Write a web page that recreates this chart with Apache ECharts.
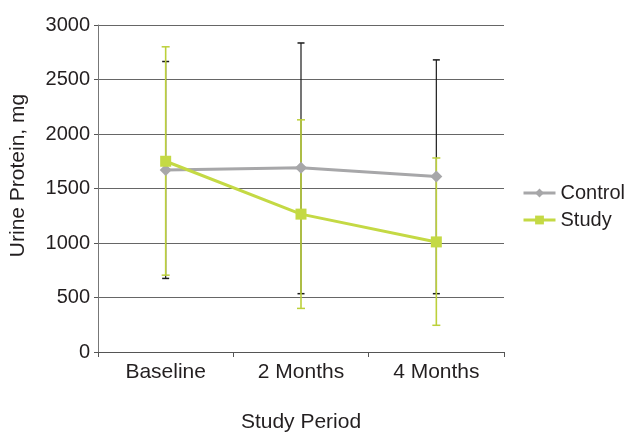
<!DOCTYPE html>
<html><head><meta charset="utf-8">
<script src="https://cdn.jsdelivr.net/npm/echarts@6/dist/echarts.min.js"></script>
<style>html,body{margin:0;padding:0;background:#fff}#c{width:625px;height:432px}</style>
</head><body><div id="c"></div>
<script>
var categories = ['Baseline', '2 Months', '4 Months'];
var controlValues = [1670, 1690, 1610];
var controlHigh = [2665, 2835, 2680];
var controlLow = [675, 535, 535];
var studyValues = [1750, 1265, 1010];
var studyHigh = [2800, 2130, 1780];
var studyLow = [705, 400, 245];

var controlColor = '#A7A7A9';
var studyColor = '#C4D944';
var studyErrColor = '#BCD03A';
var textColor = '#231F20';

function errData(low, high) {
  return categories.map(function (c, i) { return [i, low[i], high[i]]; });
}
function errRender(color, w, lw) {
  return function (params, api) {
    var x = api.value(0);
    var lo = api.coord([x, api.value(1)]);
    var hi = api.coord([x, api.value(2)]);
    return {
      type: 'group',
      children: [
        {type: 'line', shape: {x1: lo[0], y1: lo[1], x2: hi[0], y2: hi[1]}, style: {stroke: color, lineWidth: lw}},
        {type: 'line', shape: {x1: hi[0] - w, y1: hi[1], x2: hi[0] + w, y2: hi[1]}, style: {stroke: color, lineWidth: 1.5}},
        {type: 'line', shape: {x1: lo[0] - w, y1: lo[1], x2: lo[0] + w, y2: lo[1]}, style: {stroke: color, lineWidth: 1.5}}
      ]
    };
  };
}

var chart = echarts.init(document.getElementById('c'));
chart.setOption({
  animation: false,
  textStyle: {fontFamily: 'Liberation Sans, Arial, sans-serif'},
  grid: {left: 98, right: 121, top: 25, bottom: 80, containLabel: false, outerBoundsMode: 'none'},
  legend: {
    orient: 'vertical', left: 517, top: 178, itemGap: 7, itemWidth: 32, itemHeight: 11,
    textStyle: {fontSize: 20, color: textColor},
    lineStyle: {width: 3},
    data: ['Control', 'Study']
  },
  xAxis: {
    type: 'category', data: categories, boundaryGap: true,
    name: 'Study Period', nameLocation: 'middle', nameGap: 60,
    nameTextStyle: {fontSize: 21, color: textColor},
    axisLine: {lineStyle: {color: '#555', width: 1}},
    axisTick: {show: true, alignWithLabel: false, length: 5, lineStyle: {color: '#555'}},
    axisLabel: {fontSize: 21, color: textColor, margin: 10}
  },
  yAxis: {
    type: 'value', min: 0, max: 3000, interval: 500,
    name: 'Urine Protein, mg', nameLocation: 'middle', nameGap: 69,
    nameTextStyle: {fontSize: 21, color: textColor, padding: [0, 0, 0, 26]},
    axisLine: {show: true, lineStyle: {color: '#777', width: 1}},
    axisTick: {show: true, length: 4, lineStyle: {color: '#555'}},
    axisLabel: {fontSize: 20, color: textColor, margin: 8, formatter: function (v) { return String(v); }},
    splitLine: {lineStyle: {color: '#666', width: 1}}
  },
  series: [
    {type: 'custom', name: 'ControlErr', renderItem: errRender('#1a1a1a', 3.5, 1.2), data: errData(controlLow, controlHigh), z: 2, encode: {x: 0, y: [1, 2]}},
    {type: 'custom', name: 'StudyErr', renderItem: errRender(studyErrColor, 4, 1.6), data: errData(studyLow, studyHigh), z: 3, encode: {x: 0, y: [1, 2]}},
    {type: 'line', name: 'Control', data: controlValues, symbol: 'diamond', symbolSize: 12,
      lineStyle: {color: controlColor, width: 3}, itemStyle: {color: controlColor}, z: 4},
    {type: 'line', name: 'Study', data: studyValues, symbol: 'rect', symbolSize: 11,
      lineStyle: {color: studyColor, width: 3}, itemStyle: {color: studyColor}, z: 5}
  ]
});
</script></body></html>
